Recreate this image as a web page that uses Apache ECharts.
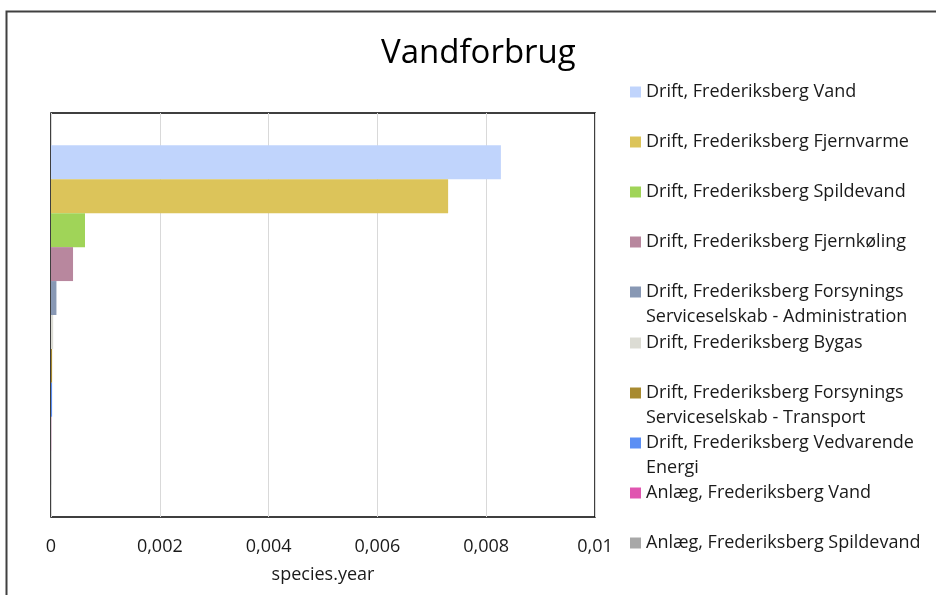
<!DOCTYPE html>
<html>
<head>
<meta charset="utf-8">
<script src="https://cdn.jsdelivr.net/npm/echarts@6/dist/echarts.min.js"></script>
<style>
html,body{margin:0;padding:0;background:#fff;}
#chart{width:936px;height:595px;}
</style>
</head>
<body>
<div id="chart"></div>
<script>
const categories = ['Vandforbrug'];
const seriesNames = [
  'Drift, Frederiksberg Vand',
  'Drift, Frederiksberg Fjernvarme',
  'Drift, Frederiksberg Spildevand',
  'Drift, Frederiksberg Fjernkøling',
  'Drift, Frederiksberg Forsynings Serviceselskab - Administration',
  'Drift, Frederiksberg Bygas',
  'Drift, Frederiksberg Forsynings Serviceselskab - Transport',
  'Drift, Frederiksberg Vedvarende Energi',
  'Anlæg, Frederiksberg Vand',
  'Anlæg, Frederiksberg Spildevand'
];
const legendLabels = [
  ['Drift, Frederiksberg Vand'],
  ['Drift, Frederiksberg Fjernvarme'],
  ['Drift, Frederiksberg Spildevand'],
  ['Drift, Frederiksberg Fjernkøling'],
  ['Drift, Frederiksberg Forsynings', 'Serviceselskab - Administration'],
  ['Drift, Frederiksberg Bygas'],
  ['Drift, Frederiksberg Forsynings', 'Serviceselskab - Transport'],
  ['Drift, Frederiksberg Vedvarende', 'Energi'],
  ['Anlæg, Frederiksberg Vand'],
  ['Anlæg, Frederiksberg Spildevand']
];
const seriesValues = [0.00827, 0.0073, 0.000625, 0.000405, 0.0001, 0.00004, 0.00002, 0.00002, 0.000003, 0.000002];
const seriesColors = ['#c0d4fc', '#dcc45a', '#a0d458', '#b8879e', '#8898b4', '#dcdcd4', '#a88a30', '#5b8ff4', '#e055b0', '#a8a8a8'];
const xTicks = { min: 0, max: 0.01, interval: 0.002 };
const legendCenters = [92, 142, 192, 242, 292, 343, 393, 443, 493, 543];

const FONT = 'Open Sans';
const chart = echarts.init(document.getElementById('chart'));

const legends = seriesNames.map((name, i) => {
  const lines = legendLabels[i];
  const text = lines.length > 1 ? '\n' + lines.join('\n') : lines[0];
  const h = lines.length > 1 ? 75 : 25;
  return {
    data: [name],
    orient: 'vertical',
    left: 630,
    top: legendCenters[i] - h / 2,
    padding: 0,
    itemWidth: 11,
    itemHeight: 11,
    icon: 'rect',
    selectedMode: false,
    formatter: () => text,
    textStyle: { fontFamily: FONT, fontSize: 18, color: '#1a1a1a', lineHeight: 25 }
  };
});

const option = {
  animation: false,
  backgroundColor: '#fff',
  title: {
    text: 'Vandforbrug',
    left: 381,
    top: 37,
    padding: 0,
    textStyle: { fontFamily: FONT, fontSize: 33, fontWeight: 'normal', color: '#000' }
  },
  legend: legends,
  graphic: [{
    type: 'rect',
    shape: { x: 6.5, y: 11.5, width: 1000, height: 1000 },
    style: { fill: 'none', stroke: '#404040', lineWidth: 2 },
    silent: true
  }],
  grid: {
    left: 51, right: 341, top: 113, bottom: 78,
    show: true, borderColor: '#000', borderWidth: 1.5, backgroundColor: 'transparent'
  },
  xAxis: {
    type: 'value',
    min: xTicks.min, max: xTicks.max, interval: xTicks.interval,
    name: 'species.year',
    nameLocation: 'middle',
    nameGap: 49,
    nameTextStyle: { fontFamily: FONT, fontSize: 18, color: '#1a1a1a' },
    axisLine: { show: false },
    axisTick: { show: false },
    splitLine: { show: true, lineStyle: { color: '#d9d9d9', width: 1 } },
    axisLabel: {
      margin: 21,
      fontFamily: FONT, fontSize: 18, color: '#1a1a1a',
      formatter: v => String(parseFloat(v.toPrecision(6))).replace('.', ',')
    }
  },
  yAxis: {
    type: 'category',
    data: categories,
    inverse: true,
    axisLine: { show: false },
    axisTick: { show: false },
    axisLabel: { show: false },
    splitLine: { show: false }
  },
  series: seriesNames.map((name, i) => ({
    name,
    type: 'bar',
    data: [seriesValues[i]],
    barGap: 0,
    barCategoryGap: '16%',
    itemStyle: { color: seriesColors[i] }
  }))
};
chart.setOption(option);
</script>
</body>
</html>
